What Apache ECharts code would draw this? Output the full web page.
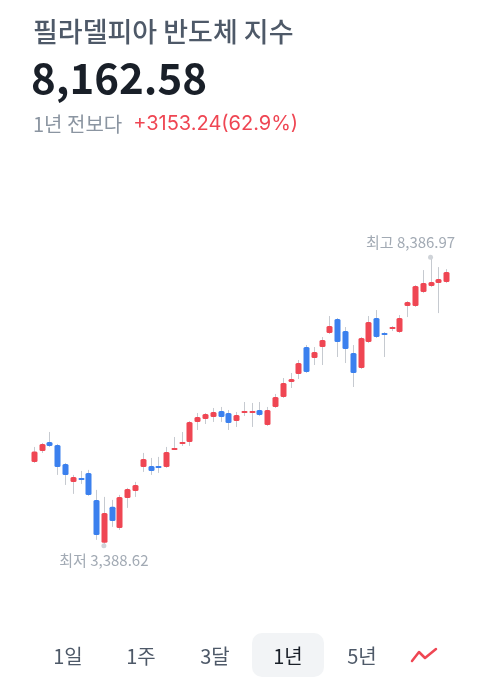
<!DOCTYPE html>
<html>
<head>
<meta charset="utf-8">
<script src="https://cdn.jsdelivr.net/npm/echarts@6/dist/echarts.min.js"></script>
<style>
  html, body { margin: 0; padding: 0; background: #fff; }
  #chart { width: 480px; height: 688px; }
</style>
</head>
<body>
<div id="chart"></div>
<script>
// 주봉 (1년)
const opens  = [4827, 5020, 5178, 5125, 4792, 4476, 4546, 4634, 4160, 3406,
                4038, 3669, 4195, 4318, 4739, 4757, 4757, 4739, 5055, 5143,
                5178, 5529, 5581, 5616, 5721, 5686, 5546, 5704, 5704, 5739,
                5476, 5792, 5967, 6230, 6370, 6844, 6651, 6844, 7090, 7335,
                7125, 6739, 6476, 6932, 7353, 7090, 7160, 7107, 7563, 7563,
                7809, 7914, 7967, 7984]
const closes = [5009, 5143, 5108, 4739, 4599, 4564, 4511, 4248, 3546, 3932,
                3792, 4213, 4353, 4423, 4880, 4669, 4722, 5002, 5072, 5178,
                5529, 5616, 5669, 5704, 5616, 5511, 5651, 5721, 5721, 5651,
                5739, 5967, 6213, 6283, 6563, 6406, 6756, 6967, 7212, 6932,
                6809, 6388, 7002, 7283, 7019, 7072, 7195, 7353, 7633, 7914,
                7967, 7984, 8037, 8162.58]
const lows   = [4809, 4985, 5090, 4599, 4423, 4266, 4441, 4231, 3459, 3388.62,
                3687, 3634, 4020, 4213, 4652, 4599, 4634, 4722, 5037, 5108,
                5108, 5388, 5493, 5529, 5529, 5388, 5441, 5634, 5441, 5634,
                5458, 5774, 5949, 6125, 6283, 6388, 6528, 6528, 7072, 6669,
                6563, 6142, 6458, 6914, 7002, 6669, 7125, 7090, 7370, 7546,
                7791, 7896, 7440, 7967]
const highs  = [5090, 5160, 5353, 5143, 4809, 4599, 4669, 4687, 4336, 4213,
                4160, 4248, 4371, 4476, 4985, 4897, 4915, 5090, 5265, 5353,
                5546, 5686, 5686, 5774, 5792, 5739, 5704, 5879, 5862, 5879,
                5792, 6020, 6300, 6388, 6616, 6879, 6844, 7019, 7388, 7353,
                7195, 6879, 7019, 7388, 7493, 7107, 7212, 7405, 7651, 7931,
                8195, 8386.97, 8247, 8212]
const weeks = opens.map((_, i) => 'W' + (i + 1))
const tabs = ['1일', '1주', '3달', '1년', '5년']

const RED = '#ef4653'
const BLUE = '#3b80ee'
const FONT = '"Noto Sans CJK KR", "Noto Sans", sans-serif'

const candleData = opens.map((o, i) => [i, o, closes[i], lows[i], highs[i]])

// 최고/최저 지점
let hiIdx = 0, loIdx = 0
highs.forEach((v, i) => { if (v > highs[hiIdx]) hiIdx = i })
lows.forEach((v, i) => { if (v < lows[loIdx]) loIdx = i })

function fmt(v) {
  return v.toLocaleString('en-US', {minimumFractionDigits: 2, maximumFractionDigits: 2})
}

function renderCandle(params, api) {
  const idx = api.value(0)
  const o = api.value(1), c = api.value(2)
  const po = api.coord([idx, o])
  const pc = api.coord([idx, c])
  const pl = api.coord([idx, api.value(3)])
  const ph = api.coord([idx, api.value(4)])
  const w = 6
  const top = Math.min(po[1], pc[1])
  const h = Math.max(Math.abs(po[1] - pc[1]), 2)
  const x = Math.round(po[0]) + 0.5
  return {
    type: 'group',
    children: [
      {type: 'line', shape: {x1: x, y1: ph[1], x2: x, y2: pl[1]},
        style: {stroke: '#c6cad0', lineWidth: 1}},
      {type: 'rect', shape: {x: x - w / 2, y: top, width: w, height: h, r: 1.5},
        style: {fill: c >= o ? RED : BLUE}}
    ]
  }
}

const tabX = [68, 141, 215, 288, 362]
const tabGraphics = tabs.map((t, i) => ({
  type: 'text',
  x: tabX[i], y: 656,
  style: {
    text: t, font: '400 20px ' + FONT,
    fill: i === 3 ? '#191f28' : '#4e5968',
    textAlign: 'center', textVerticalAlign: 'middle'
  },
  z: 10
}))

const chart = echarts.init(document.getElementById('chart'))
chart.setOption({
  backgroundColor: '#ffffff',
  animation: false,
  grid: {left: 30, right: 30, top: 247, bottom: 122},
  xAxis: {type: 'category', data: weeks, show: false, boundaryGap: true},
  yAxis: {type: 'value', min: 3000, max: 8600, show: false, splitLine: {show: false}},
  graphic: [
    {type: 'text', x: 33, y: 32,
      style: {text: '필라델피아 반도체 지수', font: '500 27px ' + FONT, fill: '#4e5968', textVerticalAlign: 'middle'}},
    {type: 'text', x: 31, y: 78,
      style: {text: '8,162.58', font: '700 42px ' + FONT, fill: '#191f28', textVerticalAlign: 'middle'}},
    {type: 'text', x: 33, y: 124,
      style: {
        text: '{a|1년 전보다}{b|+3153.24(62.9%)}',
        textVerticalAlign: 'middle',
        font: '400 20px ' + FONT,
        rich: {
          a: {fontFamily: FONT, fontSize: 20, fill: '#8b95a1', padding: [0, 11, 0, 0]},
          b: {fontFamily: 'Inter, ' + FONT, fontSize: 20, fill: RED}
        }
      }},
    {type: 'rect', shape: {x: 252, y: 633, width: 72, height: 44, r: 10},
      style: {fill: '#f2f4f6'}, z: 5},
    ...tabGraphics,
    {type: 'polyline', shape: {points: [[412, 661], [419, 652], [425, 658], [436, 649]]},
      style: {stroke: RED, lineWidth: 2.5, lineCap: 'round', lineJoin: 'round', fill: null}, z: 10}
  ],
  series: [
    {
      type: 'custom',
      renderItem: renderCandle,
      encode: {x: 0, y: [1, 2, 3, 4]},
      data: candleData,
      z: 2
    },
    {
      type: 'scatter',
      symbolSize: 5,
      itemStyle: {color: '#c3c8ce'},
      z: 3,
      data: [
        {value: [hiIdx, highs[hiIdx]], symbolOffset: [0, -2],
          label: {show: true, position: 'top', offset: [-20, -1], distance: 4,
            formatter: '최고 ' + fmt(highs[hiIdx])}},
        {value: [loIdx, lows[loIdx]], symbolOffset: [0, 2],
          label: {show: true, position: 'bottom', offset: [0, 1], distance: 3,
            formatter: '최저 ' + fmt(lows[loIdx])}}
      ],
      label: {fontFamily: FONT, fontSize: 15, color: '#8b95a1'}
    }
  ]
})
</script>
</body>
</html>
